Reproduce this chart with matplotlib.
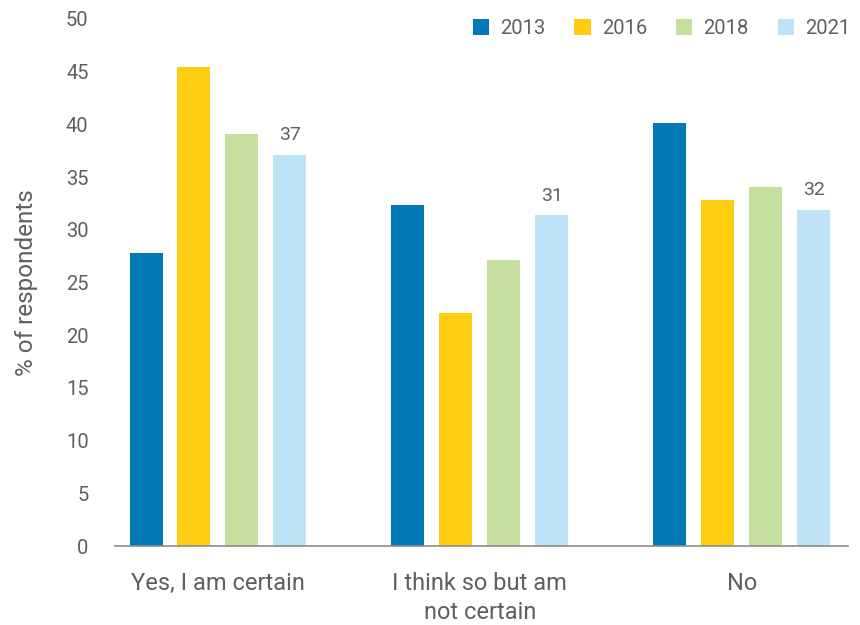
import numpy as np
import matplotlib
matplotlib.use("Agg")
import matplotlib.pyplot as plt

plt.rcParams['font.family'] = ['Roboto', 'DejaVu Sans']

# survey answers and yearly shares (% of respondents)
categories = ["Yes, I am certain", "I think so but am\nnot certain", "No"]
years = ["2013", "2016", "2018", "2021"]
share_2013 = [27.8, 32.4, 40.1]
share_2016 = [45.4, 22.1, 32.8]
share_2018 = [39.1, 27.1, 34.1]
share_2021 = [37.1, 31.4, 31.9]
labels_2021 = ["37", "31", "32"]

colors = ["#007BB8", "#FFCC12", "#C5E09E", "#BDE3F6"]
text_grey = "#5f5f5f"

series = [share_2013, share_2016, share_2018, share_2021]

fig = plt.figure(figsize=(8.6, 6.25), dpi=100)
ax = fig.add_axes([0.1337, 0.1264, 0.8523, 0.8432])

x = np.arange(len(categories))
step = 0.183
width = 0.126
offsets = (np.arange(len(years)) - 1.5) * step

for i, (yr, vals) in enumerate(zip(years, series)):
    bars = ax.bar(x + offsets[i], vals, width=width, color=colors[i], label=yr, zorder=2)
    if yr == "2021":
        for b, lab in zip(bars, labels_2021):
            ax.text(b.get_x() + b.get_width() / 2, b.get_height() + 1.0, lab,
                    ha="center", va="bottom", fontsize=14, color=text_grey)

ax.set_xlim(-0.393, 2.405)
ax.set_ylim(0, 50)
ax.set_yticks(np.arange(0, 51, 5))
ax.set_xticks(x)
ax.set_xticklabels(categories, fontsize=17, color=text_grey, linespacing=1.3)
ax.tick_params(axis="y", length=0, pad=19, labelsize=14.5, labelcolor=text_grey)
ax.tick_params(axis="x", length=0, pad=19)

for s in ["top", "right", "left"]:
    ax.spines[s].set_visible(False)
ax.spines["bottom"].set_color("#8c8c8c")
ax.spines["bottom"].set_linewidth(1.2)

ax.set_ylabel("% of respondents", fontsize=17.5, color=text_grey, labelpad=20)

leg = ax.legend(loc="upper right", bbox_to_anchor=(1.014, 1.015), ncol=4, frameon=False,
                fontsize=14.5, handlelength=0.8, handleheight=0.8, handletextpad=0.55,
                columnspacing=1.45, borderaxespad=0)
for t in leg.get_texts():
    t.set_color(text_grey)

fig.savefig("out.png", dpi=100)
